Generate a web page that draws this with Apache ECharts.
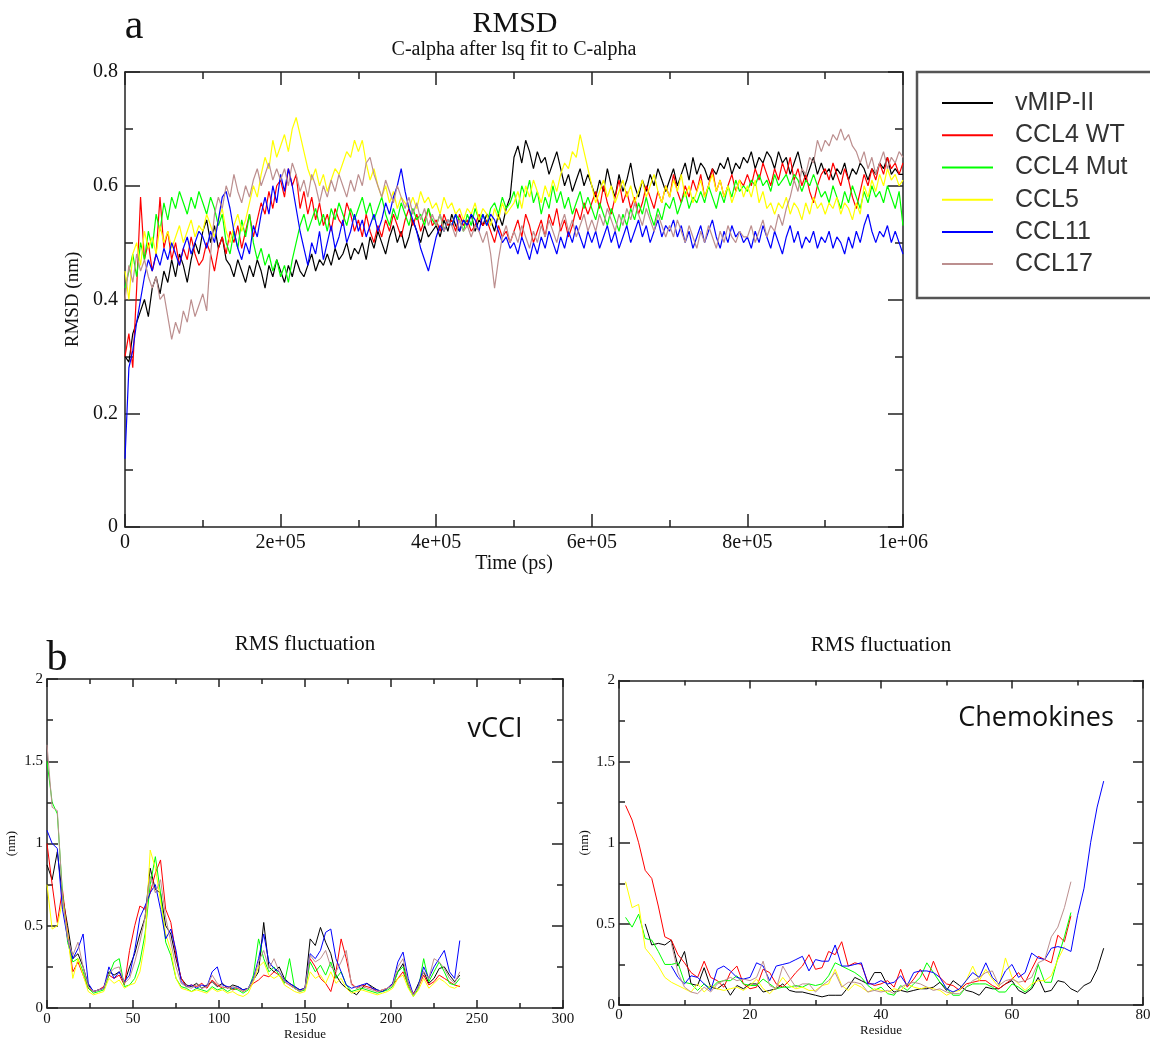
<!DOCTYPE html>
<html><head><meta charset="utf-8">
<script src="https://cdn.jsdelivr.net/npm/echarts@6/dist/echarts.min.js"></script>
<style>html,body{margin:0;padding:0;background:#fff}#c{width:1150px;height:1040px}</style>
</head><body><div id="c"></div>
<script>
// ---------------- DATA ----------------
const seriesNames = ['vMIP-II', 'CCL4 WT', 'CCL4 Mut', 'CCL5', 'CCL11', 'CCL17'];

// Panel a: RMSD (nm) vs time, sampled every rmsdStepPs
const rmsdStepPs = 5000;
const timeTickLabels = ['0', '2e+05', '4e+05', '6e+05', '8e+05', '1e+06'];
const rmsdVmipII = [
0.30,0.29,0.34,0.36,0.38,0.40,0.37,0.42,0.44,0.41,0.45,0.43,0.47,0.44,0.48,0.46,0.43,0.47,0.50,0.48,
0.52,0.54,0.50,0.53,0.49,0.51,0.47,0.46,0.44,0.47,0.45,0.43,0.46,0.44,0.47,0.45,0.42,0.46,0.44,0.47,
0.45,0.43,0.46,0.44,0.47,0.45,0.44,0.46,0.48,0.45,0.47,0.46,0.48,0.46,0.49,0.47,0.48,0.50,0.47,0.49,
0.48,0.50,0.47,0.51,0.49,0.52,0.50,0.48,0.51,0.53,0.50,0.52,0.49,0.51,0.54,0.52,0.50,0.53,0.51,0.52,
0.53,0.51,0.54,0.52,0.55,0.53,0.52,0.54,0.53,0.55,0.52,0.54,0.53,0.55,0.54,0.52,0.55,0.53,0.56,0.58,
0.65,0.67,0.64,0.68,0.66,0.63,0.66,0.64,0.65,0.62,0.64,0.66,0.63,0.60,0.62,0.59,0.61,0.63,0.60,0.62,
0.60,0.58,0.61,0.59,0.63,0.60,0.58,0.62,0.59,0.61,0.64,0.60,0.58,0.61,0.59,0.62,0.60,0.63,0.61,0.59,
0.61,0.63,0.60,0.62,0.64,0.61,0.65,0.62,0.64,0.63,0.61,0.63,0.62,0.64,0.63,0.65,0.62,0.64,0.63,0.65,
0.64,0.66,0.63,0.65,0.64,0.66,0.65,0.63,0.66,0.64,0.65,0.62,0.64,0.66,0.63,0.61,0.63,0.65,0.62,0.64,
0.62,0.63,0.61,0.63,0.62,0.64,0.61,0.63,0.62,0.64,0.63,0.61,0.63,0.62,0.64,0.63,0.65,0.62,0.63,0.62,0.62];
const rmsdCCL4WT = [
0.30,0.34,0.28,0.42,0.58,0.47,0.50,0.45,0.48,0.58,0.49,0.52,0.47,0.50,0.46,0.49,0.47,0.51,0.48,0.46,
0.47,0.50,0.48,0.45,0.49,0.51,0.48,0.52,0.50,0.53,0.49,0.52,0.55,0.51,0.54,0.57,0.55,0.59,0.56,0.60,
0.61,0.58,0.63,0.60,0.62,0.56,0.59,0.55,0.58,0.54,0.57,0.53,0.55,0.52,0.56,0.54,0.53,0.57,0.55,0.52,
0.54,0.51,0.55,0.52,0.50,0.53,0.51,0.54,0.52,0.55,0.53,0.51,0.54,0.56,0.53,0.55,0.52,0.54,0.56,0.53,
0.54,0.52,0.55,0.53,0.54,0.52,0.55,0.53,0.54,0.52,0.53,0.55,0.53,0.54,0.52,0.50,0.53,0.51,0.52,0.50,
0.52,0.54,0.51,0.55,0.53,0.50,0.52,0.54,0.51,0.55,0.53,0.56,0.52,0.54,0.51,0.53,0.56,0.54,0.57,0.55,
0.57,0.59,0.56,0.60,0.57,0.55,0.58,0.61,0.57,0.59,0.56,0.58,0.55,0.57,0.60,0.58,0.56,0.59,0.57,0.60,
0.58,0.62,0.59,0.57,0.60,0.58,0.61,0.59,0.62,0.58,0.60,0.63,0.59,0.61,0.58,0.60,0.62,0.59,0.61,0.60,
0.62,0.60,0.63,0.61,0.64,0.62,0.60,0.63,0.61,0.64,0.62,0.65,0.61,0.63,0.60,0.62,0.59,0.57,0.60,0.62,
0.63,0.61,0.64,0.62,0.60,0.63,0.61,0.58,0.56,0.59,0.62,0.60,0.63,0.61,0.64,0.62,0.65,0.63,0.64,0.62,0.64];
const rmsdCCL4Mut = [
0.42,0.45,0.48,0.44,0.50,0.47,0.52,0.49,0.55,0.52,0.57,0.54,0.58,0.56,0.59,0.57,0.55,0.58,0.56,0.59,
0.57,0.55,0.58,0.56,0.53,0.55,0.50,0.48,0.52,0.49,0.54,0.51,0.55,0.50,0.47,0.49,0.46,0.48,0.45,0.47,
0.44,0.46,0.43,0.47,0.50,0.53,0.55,0.52,0.54,0.56,0.53,0.55,0.52,0.56,0.54,0.57,0.55,0.53,0.56,0.54,
0.56,0.58,0.55,0.57,0.54,0.56,0.58,0.55,0.53,0.56,0.54,0.57,0.55,0.53,0.56,0.54,0.55,0.53,0.56,0.54,
0.53,0.55,0.52,0.54,0.53,0.55,0.54,0.52,0.55,0.53,0.56,0.54,0.55,0.53,0.56,0.57,0.55,0.58,0.56,0.57,
0.59,0.56,0.60,0.58,0.61,0.57,0.59,0.55,0.58,0.56,0.60,0.57,0.59,0.56,0.58,0.55,0.57,0.59,0.56,0.58,
0.56,0.54,0.57,0.55,0.53,0.56,0.54,0.52,0.55,0.53,0.56,0.54,0.57,0.55,0.58,0.55,0.53,0.56,0.54,0.57,
0.56,0.58,0.55,0.57,0.59,0.56,0.58,0.57,0.59,0.57,0.60,0.58,0.56,0.59,0.57,0.60,0.58,0.61,0.59,0.60,
0.59,0.61,0.60,0.62,0.60,0.61,0.59,0.62,0.60,0.61,0.62,0.60,0.62,0.61,0.59,0.61,0.60,0.62,0.60,0.58,
0.59,0.57,0.60,0.58,0.56,0.59,0.57,0.60,0.58,0.56,0.59,0.57,0.60,0.58,0.59,0.57,0.60,0.58,0.56,0.59,0.53];
const rmsdCCL5 = [
0.45,0.40,0.48,0.50,0.46,0.52,0.49,0.51,0.48,0.53,0.50,0.52,0.49,0.51,0.53,0.50,0.52,0.54,0.51,0.53,
0.52,0.55,0.53,0.51,0.54,0.56,0.52,0.50,0.53,0.55,0.52,0.54,0.57,0.60,0.58,0.62,0.65,0.63,0.68,0.65,
0.67,0.69,0.66,0.70,0.72,0.69,0.66,0.63,0.61,0.63,0.60,0.62,0.59,0.61,0.63,0.62,0.64,0.66,0.65,0.68,
0.66,0.68,0.64,0.61,0.63,0.60,0.58,0.60,0.57,0.59,0.56,0.58,0.57,0.56,0.58,0.56,0.59,0.57,0.58,0.56,
0.57,0.55,0.58,0.56,0.57,0.55,0.56,0.54,0.56,0.55,0.57,0.54,0.56,0.55,0.53,0.56,0.54,0.57,0.55,0.56,
0.57,0.59,0.56,0.60,0.58,0.61,0.59,0.57,0.60,0.58,0.61,0.59,0.62,0.64,0.63,0.66,0.65,0.69,0.66,0.63,
0.60,0.57,0.59,0.61,0.58,0.60,0.57,0.59,0.61,0.58,0.60,0.57,0.59,0.61,0.58,0.60,0.62,0.59,0.57,0.60,
0.58,0.61,0.59,0.62,0.58,0.60,0.57,0.59,0.61,0.58,0.60,0.62,0.59,0.61,0.58,0.60,0.57,0.59,0.61,0.58,
0.60,0.58,0.61,0.57,0.59,0.56,0.57,0.55,0.57,0.56,0.58,0.55,0.57,0.56,0.54,0.57,0.55,0.58,0.56,0.57,
0.55,0.57,0.56,0.58,0.55,0.57,0.56,0.54,0.57,0.55,0.60,0.58,0.61,0.59,0.62,0.60,0.63,0.61,0.62,0.60,0.61];
const rmsdCCL11 = [
0.12,0.28,0.31,0.36,0.40,0.44,0.47,0.45,0.48,0.46,0.49,0.47,0.50,0.48,0.46,0.49,0.51,0.48,0.50,0.52,
0.51,0.49,0.52,0.50,0.54,0.58,0.59,0.56,0.52,0.49,0.47,0.50,0.48,0.53,0.51,0.55,0.58,0.55,0.60,0.57,
0.62,0.59,0.63,0.60,0.56,0.52,0.49,0.46,0.50,0.48,0.52,0.47,0.50,0.53,0.49,0.51,0.54,0.50,0.52,0.55,
0.52,0.54,0.51,0.53,0.55,0.52,0.54,0.57,0.55,0.58,0.60,0.63,0.59,0.56,0.54,0.52,0.49,0.47,0.45,0.48,
0.51,0.53,0.52,0.54,0.53,0.55,0.52,0.54,0.53,0.55,0.54,0.52,0.55,0.53,0.55,0.54,0.52,0.50,0.51,0.49,
0.50,0.48,0.51,0.49,0.47,0.50,0.48,0.51,0.49,0.52,0.50,0.48,0.51,0.49,0.52,0.50,0.53,0.51,0.49,0.52,
0.50,0.52,0.49,0.51,0.53,0.50,0.52,0.49,0.51,0.53,0.50,0.52,0.54,0.51,0.53,0.50,0.52,0.54,0.51,0.53,
0.52,0.54,0.51,0.53,0.50,0.52,0.49,0.51,0.53,0.50,0.52,0.54,0.51,0.49,0.52,0.50,0.53,0.51,0.52,0.50,
0.51,0.49,0.52,0.50,0.53,0.51,0.49,0.52,0.50,0.48,0.51,0.53,0.50,0.52,0.49,0.51,0.50,0.52,0.49,0.51,
0.50,0.52,0.49,0.51,0.50,0.48,0.51,0.49,0.52,0.50,0.53,0.55,0.52,0.50,0.52,0.51,0.53,0.50,0.52,0.50,0.48];
const rmsdCCL17 = [
0.40,0.46,0.43,0.48,0.45,0.47,0.44,0.42,0.44,0.40,0.41,0.37,0.33,0.36,0.34,0.38,0.36,0.40,0.37,0.39,
0.41,0.38,0.48,0.55,0.58,0.56,0.60,0.58,0.62,0.59,0.57,0.60,0.58,0.61,0.63,0.60,0.62,0.64,0.61,0.63,
0.61,0.63,0.60,0.64,0.62,0.59,0.61,0.58,0.62,0.60,0.57,0.60,0.58,0.61,0.59,0.62,0.60,0.58,0.61,0.59,
0.62,0.60,0.64,0.65,0.62,0.60,0.58,0.61,0.59,0.57,0.60,0.58,0.56,0.58,0.55,0.57,0.54,0.56,0.53,0.55,
0.53,0.55,0.52,0.54,0.53,0.51,0.54,0.52,0.53,0.51,0.53,0.52,0.50,0.52,0.48,0.42,0.47,0.51,0.53,0.50,
0.52,0.50,0.53,0.51,0.49,0.52,0.50,0.53,0.51,0.54,0.52,0.50,0.53,0.55,0.52,0.54,0.51,0.53,0.55,0.52,
0.54,0.52,0.55,0.53,0.56,0.54,0.52,0.55,0.53,0.56,0.54,0.57,0.55,0.53,0.56,0.54,0.52,0.55,0.53,0.51,
0.53,0.51,0.54,0.52,0.50,0.53,0.51,0.49,0.52,0.50,0.53,0.51,0.49,0.52,0.50,0.53,0.51,0.50,0.52,0.51,
0.51,0.53,0.50,0.52,0.54,0.51,0.53,0.52,0.55,0.53,0.56,0.58,0.61,0.59,0.63,0.62,0.65,0.64,0.68,0.66,
0.68,0.67,0.69,0.68,0.70,0.68,0.69,0.67,0.66,0.64,0.66,0.63,0.65,0.62,0.64,0.66,0.63,0.65,0.64,0.66,0.65];

// Panel b left: vCCI RMSF (nm), every vcciStep residues from 0
const vcciStep = 3;
const vcciVmipII = [0.87,0.78,0.95,0.68,0.50,0.30,0.33,0.25,0.14,0.10, 0.11,0.12,0.22,0.20,0.22,0.15,0.25,0.33,0.45,0.55, 0.85,0.72,0.70,0.50,0.45,0.30,0.18,0.14,0.13,0.15, 0.12,0.14,0.16,0.13,0.15,0.12,0.14,0.13,0.11,0.12, 0.17,0.22,0.52,0.25,0.22,0.25,0.18,0.15,0.13,0.11, 0.12,0.42,0.38,0.49,0.40,0.33,0.20,0.15,0.12,0.10, 0.08,0.12,0.15,0.13,0.11,0.10,0.12,0.15,0.22,0.27, 0.15,0.08,0.15,0.22,0.15,0.18,0.24,0.25,0.20,0.16, 0.20];
const vcciCCL4WT = [1.00,0.75,0.52,0.72,0.45,0.22,0.28,0.20,0.12,0.10, 0.11,0.13,0.20,0.18,0.20,0.14,0.35,0.50,0.62,0.60, 0.70,0.82,0.90,0.60,0.52,0.32,0.18,0.13,0.14,0.13, 0.15,0.12,0.17,0.14,0.12,0.13,0.11,0.12,0.10,0.12, 0.15,0.17,0.20,0.19,0.22,0.20,0.16,0.14,0.12,0.10, 0.12,0.30,0.25,0.18,0.15,0.10,0.22,0.42,0.30,0.15, 0.12,0.14,0.13,0.12,0.10,0.11,0.12,0.14,0.18,0.22, 0.14,0.09,0.13,0.20,0.14,0.16,0.20,0.18,0.16,0.14, 0.13];
const vcciCCL4Mut = [1.50,1.25,1.18,0.70,0.40,0.28,0.30,0.22,0.12,0.09, 0.10,0.11,0.20,0.28,0.30,0.13,0.14,0.18,0.28,0.45, 0.75,0.92,0.70,0.40,0.32,0.18,0.13,0.12,0.10,0.12, 0.11,0.10,0.13,0.11,0.12,0.10,0.12,0.11,0.09,0.11, 0.20,0.42,0.30,0.22,0.25,0.20,0.15,0.30,0.12,0.10, 0.11,0.28,0.22,0.26,0.20,0.28,0.18,0.22,0.14,0.10, 0.11,0.12,0.11,0.10,0.09,0.10,0.11,0.13,0.22,0.25, 0.13,0.07,0.12,0.30,0.16,0.22,0.28,0.22,0.15,0.14, 0.18];
const vcciCCL5 = [0.75,0.48,0.50,0.65,0.45,0.18,0.30,0.20,0.10,0.08, 0.09,0.10,0.18,0.15,0.17,0.12,0.14,0.15,0.22,0.40, 0.96,0.85,0.65,0.45,0.35,0.18,0.12,0.11,0.10,0.11, 0.10,0.09,0.12,0.10,0.11,0.09,0.10,0.08,0.07,0.09, 0.16,0.25,0.28,0.20,0.18,0.20,0.14,0.12,0.10,0.09, 0.10,0.22,0.18,0.20,0.15,0.22,0.15,0.18,0.12,0.09, 0.10,0.11,0.10,0.09,0.08,0.09,0.10,0.12,0.18,0.20, 0.12,0.07,0.11,0.18,0.12,0.15,0.18,0.16,0.13,0.12, 0.14];
const vcciCCL11 = [1.08,1.00,0.97,0.60,0.42,0.30,0.36,0.45,0.15,0.10, 0.11,0.12,0.25,0.18,0.22,0.16,0.20,0.35,0.55,0.62, 0.70,0.75,0.60,0.42,0.48,0.35,0.16,0.13,0.14,0.12, 0.14,0.13,0.22,0.25,0.14,0.13,0.12,0.13,0.11,0.12, 0.18,0.30,0.45,0.28,0.24,0.22,0.17,0.15,0.13,0.11, 0.12,0.33,0.30,0.35,0.46,0.48,0.30,0.22,0.14,0.12, 0.13,0.14,0.15,0.12,0.11,0.10,0.12,0.15,0.28,0.34, 0.18,0.08,0.14,0.25,0.18,0.25,0.30,0.35,0.22,0.18, 0.41];
const vcciCCL17 = [1.60,1.22,1.20,0.68,0.42,0.32,0.40,0.25,0.13,0.10, 0.11,0.12,0.21,0.24,0.25,0.15,0.18,0.28,0.40,0.55, 0.80,0.70,0.78,0.55,0.40,0.25,0.15,0.13,0.12,0.14, 0.12,0.13,0.20,0.15,0.13,0.12,0.13,0.12,0.10,0.12, 0.17,0.28,0.35,0.24,0.30,0.22,0.16,0.14,0.12,0.10, 0.12,0.32,0.28,0.30,0.35,0.25,0.22,0.28,0.35,0.14, 0.12,0.13,0.12,0.11,0.10,0.11,0.12,0.14,0.25,0.30, 0.15,0.08,0.13,0.22,0.18,0.30,0.28,0.24,0.18,0.15, 0.22];

// Panel b right: chemokine RMSF (nm), one value per residue from the given first residue
const chemFirstResidue = [4, 1, 1, 1, 8, 8];
const chemVmipII = [0.50,0.37,0.38,0.37,0.40,0.24,0.33,0.13,0.12,0.23, 0.11,0.10,0.13,0.06,0.12,0.10,0.13,0.13,0.08,0.09, 0.10,0.13,0.09,0.08,0.08,0.07,0.06,0.05,0.06,0.06, 0.06,0.11,0.17,0.15,0.13,0.20,0.20,0.12,0.08,0.09, 0.08,0.09,0.10,0.10,0.11,0.14,0.09,0.15,0.12,0.09, 0.08,0.06,0.11,0.10,0.10,0.13,0.15,0.09,0.07,0.10, 0.17,0.08,0.09,0.15,0.14,0.10,0.08,0.12,0.14,0.22, 0.35];
const chemCCL4WT = [1.23,1.14,1.00,0.83,0.78,0.61,0.42,0.40,0.31,0.26, 0.20,0.17,0.27,0.17,0.15,0.11,0.20,0.24,0.13,0.10, 0.11,0.22,0.20,0.13,0.11,0.15,0.20,0.24,0.31,0.22, 0.23,0.33,0.31,0.39,0.24,0.26,0.25,0.14,0.12,0.13, 0.15,0.11,0.22,0.11,0.16,0.22,0.15,0.27,0.17,0.13, 0.12,0.09,0.13,0.14,0.15,0.15,0.12,0.10,0.13,0.16, 0.20,0.14,0.22,0.30,0.28,0.26,0.43,0.39,0.55];
const chemCCL4Mut = [0.54,0.48,0.56,0.41,0.40,0.33,0.25,0.25,0.26,0.14, 0.13,0.09,0.13,0.10,0.14,0.15,0.15,0.18,0.13,0.12, 0.12,0.16,0.13,0.10,0.11,0.11,0.12,0.11,0.13,0.12, 0.13,0.18,0.26,0.24,0.22,0.20,0.17,0.12,0.09,0.11, 0.07,0.06,0.12,0.09,0.13,0.17,0.26,0.20,0.14,0.10, 0.06,0.06,0.11,0.13,0.13,0.13,0.11,0.08,0.08,0.13, 0.11,0.08,0.11,0.25,0.14,0.14,0.29,0.42,0.57];
const chemCCL5 = [0.76,0.60,0.62,0.35,0.30,0.24,0.17,0.14,0.12,0.10, 0.08,0.13,0.08,0.12,0.10,0.09,0.10,0.11,0.09,0.12, 0.16,0.10,0.07,0.11,0.17,0.12,0.10,0.11,0.09,0.09, 0.12,0.13,0.22,0.12,0.09,0.13,0.11,0.08,0.10,0.09, 0.08,0.10,0.09,0.13,0.11,0.10,0.11,0.10,0.09,0.06, 0.08,0.09,0.15,0.24,0.15,0.22,0.16,0.11,0.29,0.17, 0.13,0.09,0.13,0.15,0.15,0.18,0.28,0.36];
const chemCCL11 = [0.24,0.17,0.13,0.18,0.17,0.13,0.09,0.22,0.24,0.21, 0.17,0.16,0.17,0.26,0.24,0.15,0.24,0.25,0.26,0.28, 0.30,0.21,0.28,0.27,0.27,0.37,0.24,0.24,0.25,0.26, 0.13,0.13,0.15,0.13,0.14,0.18,0.12,0.20,0.21,0.21, 0.20,0.17,0.10,0.08,0.10,0.15,0.20,0.17,0.26,0.17, 0.13,0.21,0.25,0.17,0.20,0.32,0.29,0.28,0.35,0.36, 0.35,0.33,0.55,0.72,1.00,1.22,1.38];
const chemCCL17 = [0.38,0.20,0.11,0.08,0.07,0.11,0.08,0.13,0.15,0.17, 0.15,0.16,0.15,0.17,0.27,0.12,0.10,0.24,0.17,0.11, 0.13,0.13,0.08,0.12,0.15,0.20,0.11,0.14,0.14,0.13, 0.08,0.09,0.08,0.09,0.07,0.11,0.13,0.14,0.13,0.11, 0.09,0.10,0.08,0.07,0.07,0.11,0.15,0.17,0.20,0.21, 0.12,0.15,0.16,0.14,0.15,0.17,0.26,0.28,0.42,0.48, 0.60,0.76];

// ---------------- STYLE ----------------
const seriesColors = ['#000000', '#ff0000', '#00ff00', '#ffff00', '#0000ff', '#bc8f8f'];
const AX = '#222';
const SERIF = '"Liberation Serif", "Times New Roman", serif';
const SANS = '"Open Sans", "Liberation Sans", sans-serif';

function valAxis(o) {
  return {
    type: 'value', gridIndex: o.grid, position: o.pos,
    min: o.min, max: o.max, interval: o.interval,
    axisLine: { show: true, onZero: false, lineStyle: { color: AX, width: 1.5 } },
    axisTick: { show: true, inside: true, length: o.tick, lineStyle: { color: AX, width: 1.5 } },
    minorTick: { show: true, splitNumber: 2, length: o.minor, lineStyle: { color: AX, width: 1.5 } },
    splitLine: { show: false }, minorSplitLine: { show: false },
    axisLabel: o.label ? {
      show: true, color: '#111', fontFamily: SERIF, fontSize: o.fontSize, margin: o.margin,
      formatter: o.formatter, showMinLabel: true, showMaxLabel: true, hideOverlap: false
    } : { show: false },
    name: o.name || '', nameLocation: 'middle', nameGap: o.nameGap || 0,
    nameTextStyle: { color: '#111', fontFamily: SERIF, fontSize: o.nameSize || 12 }
  };
}

const xAxes = [
  valAxis({ grid: 0, pos: 'bottom', min: 0, max: 1000000, interval: 200000, tick: 13, minor: 7, label: true, fontSize: 20, margin: 6,
    formatter: (v, i) => timeTickLabels[Math.round(v / 200000)], name: 'Time (ps)', nameGap: 20, nameSize: 20 }),
  valAxis({ grid: 0, pos: 'top', min: 0, max: 1000000, interval: 200000, tick: 13, minor: 7, label: false }),
  valAxis({ grid: 1, pos: 'bottom', min: 0, max: 300, interval: 50, tick: 8, minor: 5, label: true, fontSize: 15, margin: 4, name: 'Residue', nameGap: 18, nameSize: 13 }),
  valAxis({ grid: 1, pos: 'top', min: 0, max: 300, interval: 50, tick: 8, minor: 5, label: false }),
  valAxis({ grid: 2, pos: 'bottom', min: 0, max: 80, interval: 20, tick: 8, minor: 5, label: true, fontSize: 15, margin: 3, name: 'Residue', nameGap: 17, nameSize: 13 }),
  valAxis({ grid: 2, pos: 'top', min: 0, max: 80, interval: 20, tick: 8, minor: 5, label: false })
];
const yAxes = [
  valAxis({ grid: 0, pos: 'left', min: 0, max: 0.8, interval: 0.2, tick: 15, minor: 8, label: true, fontSize: 20, margin: 7, name: 'RMSD (nm)', nameGap: 41, nameSize: 19 }),
  valAxis({ grid: 0, pos: 'right', min: 0, max: 0.8, interval: 0.2, tick: 15, minor: 8, label: false }),
  valAxis({ grid: 1, pos: 'left', min: 0, max: 2, interval: 0.5, tick: 11, minor: 6, label: true, fontSize: 15, margin: 4, name: '(nm)', nameGap: 29, nameSize: 13 }),
  valAxis({ grid: 1, pos: 'right', min: 0, max: 2, interval: 0.5, tick: 11, minor: 6, label: false }),
  valAxis({ grid: 2, pos: 'left', min: 0, max: 2, interval: 0.5, tick: 11, minor: 6, label: true, fontSize: 15, margin: 4, name: '(nm)', nameGap: 28, nameSize: 13 }),
  valAxis({ grid: 2, pos: 'right', min: 0, max: 2, interval: 0.5, tick: 10, minor: 6, label: false })
];

const rmsdSets = [rmsdVmipII, rmsdCCL4WT, rmsdCCL4Mut, rmsdCCL5, rmsdCCL11, rmsdCCL17];
const vcciSets = [vcciVmipII, vcciCCL4WT, vcciCCL4Mut, vcciCCL5, vcciCCL11, vcciCCL17];
const chemSets = [chemVmipII, chemCCL4WT, chemCCL4Mut, chemCCL5, chemCCL11, chemCCL17];

function lineSeries(name, color, data, axisIdx, width) {
  return {
    type: 'line', name, data, xAxisIndex: axisIdx, yAxisIndex: axisIdx,
    showSymbol: false, symbol: 'none', silent: true, animation: false,
    lineStyle: { color, width }, itemStyle: { color }, emphasis: { disabled: true }
  };
}

const series = [];
seriesNames.forEach((n, k) => series.push(lineSeries(n, seriesColors[k], rmsdSets[k].map((v, i) => [i * rmsdStepPs, v]), 0, 1.2)));
seriesNames.forEach((n, k) => series.push(lineSeries(n, seriesColors[k], vcciSets[k].map((v, i) => [i * vcciStep, v]), 2, 1)));
seriesNames.forEach((n, k) => series.push(lineSeries(n, seriesColors[k], chemSets[k].map((v, i) => [chemFirstResidue[k] + i, v]), 4, 1)));

function txt(t, x, y, font, color) {
  return { type: 'text', x, y, silent: true, style: { text: t, font, fill: color || '#111', align: 'center', verticalAlign: 'middle' } };
}

const option = {
  animation: false,
  backgroundColor: '#fff',
  grid: [
    { left: 125, top: 72, width: 778, height: 455, outerBoundsMode: 'none' },
    { left: 47, top: 679, width: 516, height: 329, outerBoundsMode: 'none' },
    { left: 619, top: 680.5, width: 524, height: 324.5, outerBoundsMode: 'none' }
  ],
  xAxis: xAxes,
  yAxis: yAxes,
  legend: {
    data: seriesNames, orient: 'vertical', left: 942, top: 87, padding: 0,
    itemWidth: 51, itemHeight: 2, itemGap: 0, icon: 'rect', selectedMode: false,
    textStyle: { fontFamily: '"Liberation Sans", Arial, sans-serif', fontSize: 25, color: '#333', lineHeight: 32.2, padding: [0, 0, 0, 17] }
  },
  graphic: [
    { type: 'rect', z: 0, silent: true, shape: { x: 917, y: 72, width: 260, height: 226 }, style: { fill: '#fff', stroke: '#555', lineWidth: 2.5 } },
    txt('a', 134, 27, '42px ' + SERIF),
    txt('RMSD', 515, 24, '30px ' + SERIF),
    txt('C-alpha after lsq fit to C-alpha', 514, 50, '20px ' + SERIF),
    txt('b', 57, 659, '42px ' + SERIF),
    txt('RMS fluctuation', 305, 644, '21px ' + SERIF),
    txt('RMS fluctuation', 881, 645, '21px ' + SERIF),
    txt('vCCI', 495, 729, '27px ' + SANS),
    txt('Chemokines', 1036, 718, '27px ' + SANS)
  ],
  series
};

const chart = echarts.init(document.getElementById('c'), null, { renderer: 'canvas' });
chart.setOption(option);
</script>
</body></html>
